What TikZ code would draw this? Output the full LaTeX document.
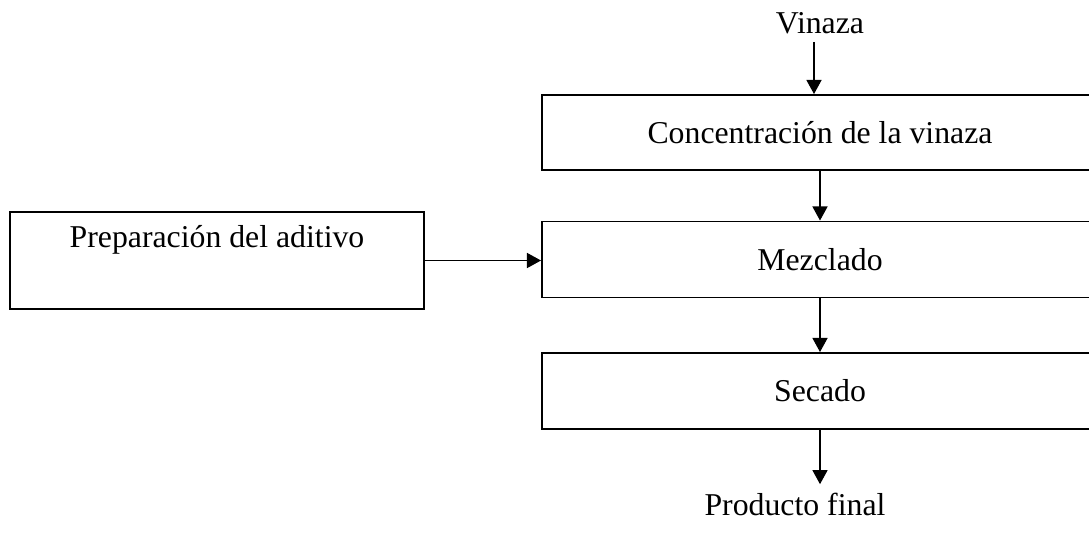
\documentclass[tikz,border=0pt]{standalone}
\usepackage{fontspec}
\setmainfont{Liberation Serif}
\usetikzlibrary{arrows.meta}

% one pixel of the original figure
\newcommand{\pxunit}{0.3777pt}

\begin{document}
\begin{tikzpicture}[x=\pxunit, y=-\pxunit,
    every node/.style={font=\fontsize{12}{14.4}\selectfont},
    stagebox/.style={draw, line width=0.75pt, inner sep=0pt,
        minimum width=556*\pxunit, minimum height=75*\pxunit,
        text height=8pt, text depth=0pt},
    flowtext/.style={inner sep=3pt},
    flowarrow/.style={-{Triangle[length=5.3pt,width=5.7pt]}, line width=0.4pt}]

    % Size of the figure
    \useasboundingbox (0,0) rectangle (1089,534);
    \clip (0,0) rectangle (1089,534);

    % Stages of the process
    \node[stagebox] (conc) at (820,132.5) {Concentración de la vinaza};
    \node[stagebox, minimum height=76*\pxunit] (mez) at (820,259.5) {Mezclado};
    \node[stagebox, minimum height=76*\pxunit] (sec) at (820,391) {Secado};
    \node[stagebox, minimum width=414*\pxunit, minimum height=97*\pxunit,
        text depth=18.2pt] (prep) at (217,260.5) {Preparación del aditivo};

    % Input and output
    \node[flowtext, anchor=base] (vinaza) at (820,33) {Vinaza};
    \node[flowtext, anchor=base] (prod) at (795,515) {Producto final};

    % Arrows between the stages
    \draw[flowarrow] ([xshift=-6*\pxunit]vinaza.south) -- ([xshift=-6*\pxunit]conc.north);
    \draw[flowarrow] (conc.south) -- (mez.north);
    \draw[flowarrow] (mez.south) -- (sec.north);
    \draw[flowarrow] (sec.south) -- (sec.south |- prod.north);
    \draw[flowarrow] (prep.east) -- (prep.east -| mez.west);

\end{tikzpicture}
\end{document}
